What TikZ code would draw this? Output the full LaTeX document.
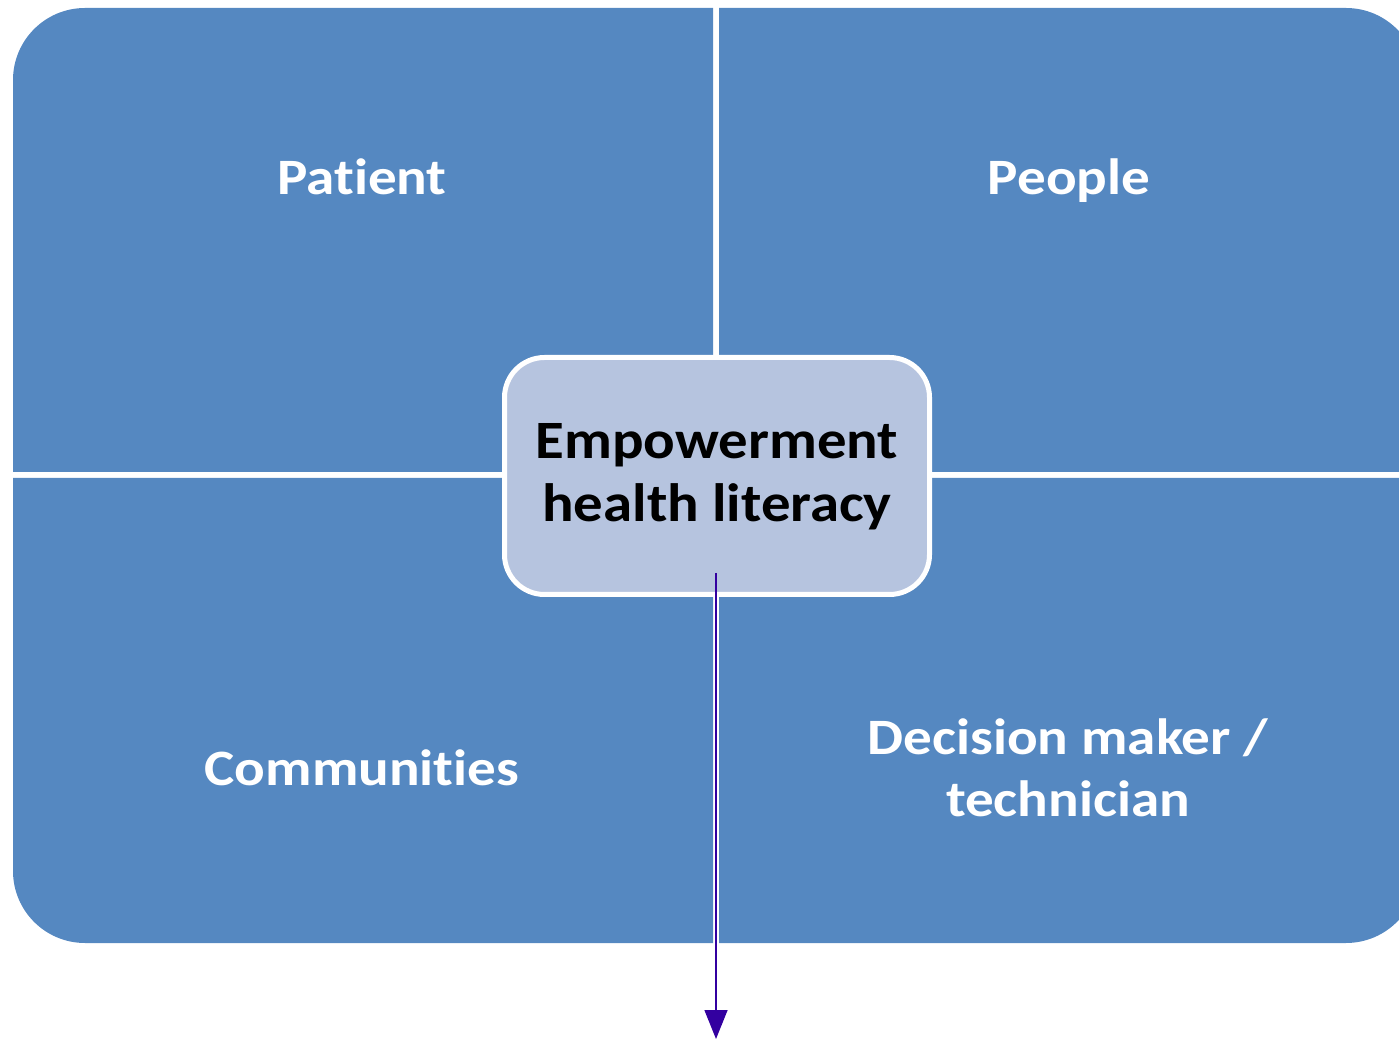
\documentclass[tikz,border=0pt]{standalone}
\usepackage{fontspec}
\setmainfont[Ligatures={NoCommon}]{Carlito}
\usetikzlibrary{arrows.meta}
\definecolor{qblue}{HTML}{5588C1}
\definecolor{cfill}{HTML}{B6C4DF}
\definecolor{arrowc}{HTML}{3300A0}
\tikzset{
  quad/.style={fill=qblue},
  qlabel/.style={text=white,font=\bfseries\fontsize{51}{62}\selectfont,align=center,inner sep=0pt,anchor=base,xscale=1.12},
  centerbox/.style={draw=white,line width=5pt,fill=cfill,rounded corners=40pt,minimum width=425pt,minimum height=237pt,inner sep=0pt},
  ctext/.style={text=black,font=\bfseries\fontsize{54}{63}\selectfont,align=center,xscale=1.09},
  conn/.style={draw=arrowc,line width=1.5pt,-{Triangle[width=23pt,length=29pt]}}
}
\begin{document}
\begin{tikzpicture}[x=1pt,y=1pt]
\useasboundingbox (0,0) rectangle (1399,1039);
% quadrants
\fill[quad] (713,567) -- (13,567) -- (13,959) arc[start angle=180,end angle=90,radius=72] -- (713,1031) -- cycle;
\fill[quad] (719,567) -- (719,1031) -- (1346,1031) arc[start angle=90,end angle=0,radius=72] -- (1418,567) -- cycle;
\fill[quad] (713,561) -- (13,561) -- (13,168) arc[start angle=180,end angle=270,radius=72] -- (713,96) -- cycle;
\fill[quad] (719,561) -- (1418,561) -- (1418,168) arc[start angle=0,end angle=-90,radius=72] -- (719,96) -- cycle;
% labels
\node[qlabel] (patient) at (362,844) {Patient};
\node[qlabel] (people) at (1069,844) {People};
\node[qlabel] (communities) at (362,254) {Communities};
\node[qlabel,anchor=center] (decision) at (1068,271) {Decision maker /\\technician};
% center
\node[centerbox] (center) at (717,563) {};
\node[ctext] (ctxt) at (717,562) {Empowerment\\health literacy};
% arrow
\coordinate (astart) at (716,466);
\coordinate (aend) at (716,0);
\draw[conn] (astart) -- (aend);
\end{tikzpicture}
\end{document}
